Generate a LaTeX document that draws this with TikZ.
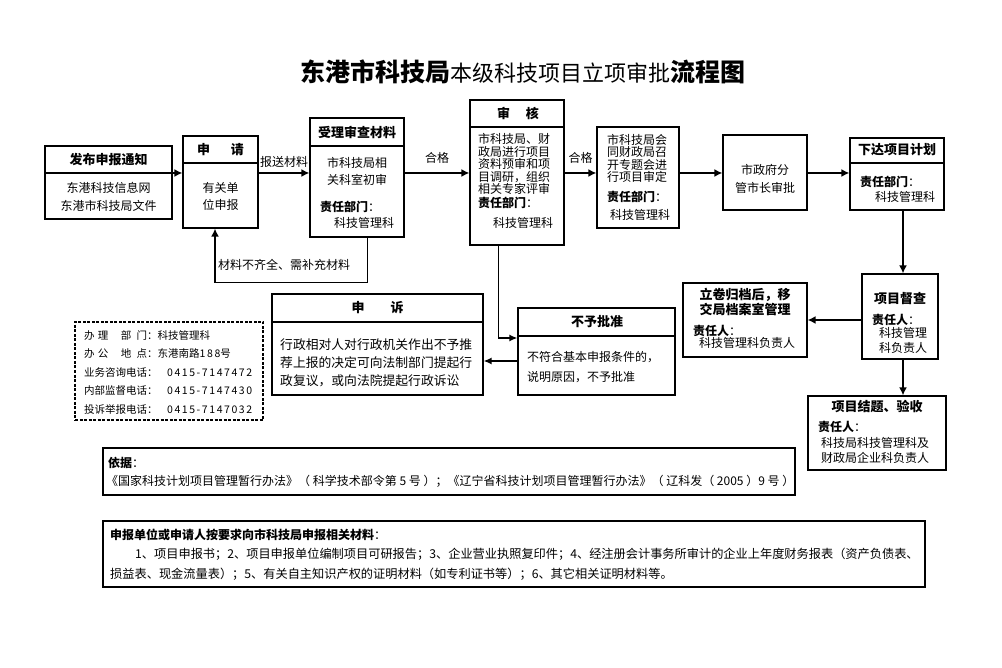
\documentclass[tikz,border=0pt]{standalone}
\usepackage{fontspec}
\setmainfont{Noto Sans CJK SC}
\newfontfamily\phonefont{Noto Sans CJK SC}[LetterSpace=15]
\usetikzlibrary{arrows.meta}

\newcommand{\zrbm}{{\bfseries 责任部门}：}
\newcommand{\zrr}{{\bfseries 责任人}：}

\tikzset{
  box/.style={draw, line width=1.2pt, inner sep=0pt},
  dashbox/.style={draw, line width=1.3pt, dash pattern=on 3pt off 1.5pt, inner sep=0pt},
  rule/.style={line width=1.2pt},
  head/.style={font=\bfseries\fontsize{13}{15}\selectfont, inner sep=0pt, align=center},
  txt/.style={font=\fontsize{12}{18}\selectfont, align=center, inner sep=0pt},
  ltxt/.style={txt, align=left, anchor=west},
  dept/.style={font=\fontsize{12}{14}\selectfont, inner sep=0pt, anchor=west},
  arr/.style={line width=2.2pt, -{Latex[length=8pt,width=8pt]}},
  arrmid/.style={line width=1.5pt, -{Latex[length=8pt,width=7pt]}},
  wire/.style={line width=1pt},
}

\begin{document}
\begin{tikzpicture}[x=1pt, y=-1pt]
\useasboundingbox (0,0) rectangle (1002,668);
\coordinate (mainline) at (0,173);

% title
\node (title) at (523,72) {{\bfseries\fontsize{25}{25}\selectfont 东港市科技局}{\fontsize{22}{22}\selectfont 本级科技项目立项审批}{\bfseries\fontsize{25}{25}\selectfont 流程图}};

% fabu
\node[box, minimum width=127, minimum height=73] (fabu) at (108.5,182.5) {};
\draw[rule] (fabu.west |- mainline) -- (fabu.east |- mainline);
\node[head] (fabu-h) at (108.5,159.5) {发布申报通知};
\node[txt] (fabu-b) at (108.5,197) {东港科技信息网\\东港市科技局文件};

% shenqing
\node[box, minimum width=75, minimum height=92] (shenqing) at (220.5,182) {};
\draw[rule] (shenqing.west |- 0,163) -- (shenqing.east |- 0,163);
\node[head] (shenqing-h) at (220.5,150) {申\hspace{1.6em}请};
\node[txt, font=\fontsize{12}{17}\selectfont] (shenqing-b) at (220.5,196.5) {有关单\\位申报};

% shouli
\node[box, minimum width=94, minimum height=119] (shouli) at (357,177.5) {};
\draw[rule] (shouli.west |- 0,146) -- (shouli.east |- 0,146);
\node[head] (shouli-h) at (357,132) {受理审查材料};
\node[txt, font=\fontsize{12}{17}\selectfont] (shouli-b) at (357,171.5) {市科技局相\\关科室初审};
\node[dept] (shouli-d) at (320,207) {\zrbm};
\node[txt] (shouli-n) at (364,223) {科技管理科};

% shenhe
\node[box, minimum width=94, minimum height=145] (shenhe) at (517,172.5) {};
\draw[rule] (shenhe.west |- 0,127) -- (shenhe.east |- 0,127);
\node[head] (shenhe-h) at (518,113) {审\hspace{1.2em}核};
\node[ltxt, font=\fontsize{12}{12.5}\selectfont] (shenhe-b) at (478,164) {市科技局、财\\政局进行项目\\资料预审和项\\目调研，组织\\相关专家评审};
\node[dept] (shenhe-d) at (478,202.5) {\zrbm};
\node[txt] (shenhe-n) at (523,223) {科技管理科};

% huishen
\node[box, minimum width=82, minimum height=101] (huishen) at (638,177.5) {};
\node[ltxt, font=\fontsize{12}{12.3}\selectfont] (huishen-b) at (607,158.5) {市科技局会\\同财政局召\\开专题会进\\行项目审定};
\node[dept] (huishen-d) at (607,197) {\zrbm};
\node[txt] (huishen-n) at (640,215) {科技管理科};

% shizf
\node[box, minimum width=84, minimum height=75] (shizf) at (765,172.5) {};
\node[txt] (shizf-b) at (765,179) {市政府分\\管市长审批};

% xiada
\node[box, minimum width=94, minimum height=72] (xiada) at (897,174) {};
\draw[rule] (xiada.west |- 0,163) -- (xiada.east |- 0,163);
\node[head] (xiada-h) at (897,150) {下达项目计划};
\node[dept] (xiada-d) at (860,182) {\zrbm};
\node[txt] (xiada-n) at (905,197) {科技管理科};

% ducha
\node[box, minimum width=76, minimum height=85] (ducha) at (900,316.5) {};
\node[head] (ducha-h) at (900,299) {项目督查};
\node[dept] (ducha-d) at (872,320) {\zrr};
\node[txt, font=\fontsize{12}{15}\selectfont] (ducha-n) at (903,340.5) {科技管理\\科负责人};

% lijuan
\node[box, minimum width=124, minimum height=74] (lijuan) at (745,320) {};
\node[head] (lijuan-h) at (745,301.5) {立卷归档后，移\\交局档案室管理};
\node[dept] (lijuan-d) at (693,331) {\zrr};
\node[txt] (lijuan-n) at (747,343) {科技管理科负责人};

% jieti
\node[box, minimum width=138, minimum height=74] (jieti) at (877,433) {};
\node[head] (jieti-h) at (877,407) {项目结题、验收};
\node[dept] (jieti-d) at (818,427) {\zrr};
\node[txt, font=\fontsize{12}{15}\selectfont] (jieti-n) at (875,450.5) {科技局科技管理科及\\财政局企业科负责人};

% buyu
\node[box, minimum width=157, minimum height=87] (buyu) at (596.5,351.5) {};
\draw[rule] (buyu.west |- 0,336) -- (buyu.east |- 0,336);
\node[head] (buyu-h) at (597,322) {不予批准};
\node[ltxt, font=\fontsize{12}{20}\selectfont] (buyu-b) at (527,367) {不符合基本申报条件的，\\说明原因，不予批准};

% shensu
\node[box, minimum width=211, minimum height=101] (shensu) at (377.5,344.5) {};
\draw[rule] (shensu.west |- 0,322) -- (shensu.east |- 0,322);
\node[head] (shensu-h) at (377.5,308) {申\hspace{2em}诉};
\node[ltxt, font=\fontsize{12.8}{18}\selectfont] (shensu-b) at (280,363) {行政相对人对行政机关作出不予推\\荐上报的决定可向法制部门提起行\\政复议，或向法院提起行政诉讼};

% lianxi
\node[dashbox, minimum width=188, minimum height=98] (lianxi) at (169,371) {};
\node[ltxt, font=\fontsize{10.5}{18.5}\selectfont] (lianxi-b) at (84,372) {%
\makebox[6em][l]{办\hspace{0.3em}理\hspace{1.2em}部\hspace{0.5em}门}：科技管理科\\
\makebox[6em][l]{办\hspace{0.3em}公\hspace{1.2em}地\hspace{0.5em}点}：东港南路{\phonefont 188}号\\
业务咨询电话：\hspace{0.9em}{\phonefont 0415-7147472}\\
内部监督电话：\hspace{0.9em}{\phonefont 0415-7147430}\\
投诉举报电话：\hspace{0.9em}{\phonefont 0415-7147032}};

% yiju
\node[box, minimum width=692, minimum height=47] (yiju) at (449,471.5) {};
\node[dept] (yiju-h) at (108,463) {{\bfseries 依据}：};
\node[dept] (yiju-b) at (106,481) {《国家科技计划项目管理暂行办法》（ 科学技术部令第 5 号 ）；《辽宁省科技计划项目管理暂行办法》（ 辽科发（ 2005 ）9 号 ）};

% cailiao
\node[box, minimum width=822, minimum height=66] (cailiao) at (514,554) {};
\node[dept] (cailiao-h) at (110,535) {{\bfseries 申报单位或申请人按要求向市科技局申报相关材料}：};
\node[dept, font=\fontsize{12.2}{14}\selectfont] (cailiao-b1) at (135,554) {1、项目申报书；2、项目申报单位编制项目可研报告；3、企业营业执照复印件；4、经注册会计事务所审计的企业上年度财务报表（资产负债表、};
\node[dept, font=\fontsize{12.2}{14}\selectfont] (cailiao-b2) at (110,574) {损益表、现金流量表）；5、有关自主知识产权的证明材料（如专利证书等）；6、其它相关证明材料等。};

% main flow
\draw[arr] ([xshift=-20pt]fabu.east |- mainline) -- (shenqing.west |- mainline);
\draw[arr] (shenqing.east |- mainline) -- (shouli.west |- mainline)
  node[midway, above=4pt, txt] (lbl-bs) {报送材料};
\draw[arr] (shouli.east |- mainline) -- (shenhe.west |- mainline)
  node[midway, above=8pt, txt] (lbl-hg1) {合格};
\draw[arr] (shenhe.east |- mainline) -- (huishen.west |- mainline)
  node[midway, above=8pt, txt] (lbl-hg2) {合格};
\draw[arr] (huishen.east |- mainline) -- (shizf.west |- mainline);
\draw[arr] (shizf.east |- mainline) -- (xiada.west |- mainline);
\draw[arr] (xiada.south -| 903,0) -- (ducha.north -| 903,0);
\draw[arr] (ducha.west |- lijuan) -- (lijuan.east);
\draw[arr] (ducha.south -| 903,0) -- (jieti.north -| 903,0);

% feedback
\coordinate (fb-r) at (367,283);
\coordinate (fb-l) at (215,283);
\draw[wire] (shouli.south -| fb-r) -- (fb-r) -- (fb-l);
\draw[arr] (fb-l) -- (shenqing.south -| fb-l);
\node[dept] (lbl-bc) at (218,265) {材料不齐全、需补充材料};

% reject
\coordinate (nb) at (498,338);
\coordinate (ns) at (0,361);
\draw[wire] (shenhe.south -| nb) -- (nb);
\draw[arrmid] (nb) -- (buyu.west |- nb);
\draw[arrmid] (buyu.west |- ns) -- (shensu.east |- ns);

\end{tikzpicture}
\end{document}
